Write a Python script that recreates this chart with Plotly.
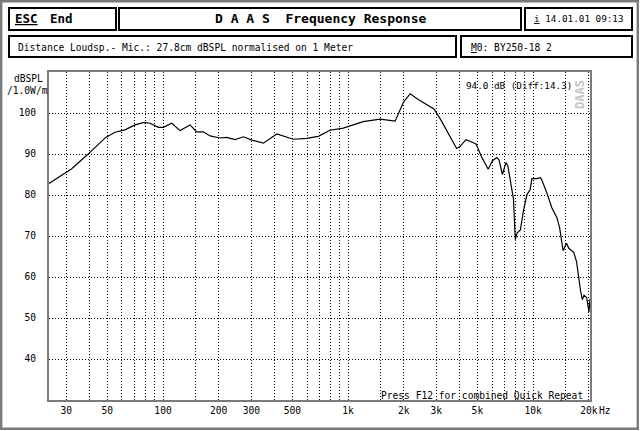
import plotly.graph_objects as go
import numpy as np

# ---- data ----
freq_hz = [24.2, 28.9, 32.1, 39, 49, 55, 62.3, 70.6, 79, 85, 94.3, 100.4, 111.4, 123.6,
           140, 152, 165, 179.6, 203, 221, 245, 272, 302, 349, 412, 506, 598, 690, 798,
           942, 1206, 1490, 1796, 1994, 2166, 2395, 2449, 2912, 3156, 3425, 3862, 4028,
           4334, 4722, 4930, 5253, 5720, 6016, 6356, 6540, 6829, 7125, 7305, 7516, 7680,
           7838, 8012, 8190, 8535, 8890, 9265, 9645, 9850, 10040, 10500, 10960, 11120,
           11870, 12640, 13470, 13920, 14520, 15150, 15600, 16600, 17180, 17700, 18080,
           18460, 18840, 19480, 20040, 20300]
spl_db = [82.8, 85.0, 86.4, 89.8, 94.05, 95.3, 95.9, 97.1, 97.7, 97.5, 96.5, 96.5, 97.5, 95.7,
          97.1, 95.4, 95.4, 94.4, 93.9, 94.05, 93.5, 94.2, 93.4, 92.65, 94.9, 93.6, 93.8, 94.3, 95.8,
          96.3, 97.9, 98.5, 98.0, 102.65, 104.7, 103.3, 103.05, 101.0, 98.5, 95.7, 91.35, 91.8,
          93.5, 92.8, 92.4, 89.4, 86.3, 88.3, 89.15, 88.6, 85.0, 87.9, 87.1, 83.8, 81.35,
          78.9, 69.1, 70.7, 71.5, 76.4, 80.1, 81.35, 84.0, 84.0, 84.0, 84.2, 83.8,
          80.5, 76.85, 74.4, 71.9, 66.4, 68.25, 67.0, 65.95, 63.7, 59.2, 56.4,
          54.5, 55.55, 55.0, 51.45, 54.7]

x_grid_hz = [30, 40, 50, 60, 70, 80, 90, 100, 150, 200, 300, 400, 500, 600, 700, 800, 900,
             1000, 1500, 2000, 3000, 4000, 5000, 6000, 7000, 8000, 9000, 10000, 15000, 20000]
x_labels = {30: "30", 50: "50", 100: "100", 200: "200", 300: "300", 500: "500", 1000: "1k",
            2000: "2k", 3000: "3k", 5000: "5k", 10000: "10k", 20000: "20k"}
y_ticks = [40, 50, 60, 70, 80, 90, 100]

W, H = 640, 431
L, R, T, B = 49, 590, 72, 400
MONO = "DejaVu Sans Mono"
FS = 9.6


def px(x):
    return (x - L) / (R - L)


def py(y):
    return (B - y) / (B - T)


fig = go.Figure()
fig.add_trace(go.Scatter(x=freq_hz, y=spl_db, mode="lines",
                         line=dict(color="black", width=1.2), hoverinfo="skip"))

annotations = []


def txt(text, x, y, anchor="left", size=FS, bold=False, color="black", angle=0):
    annotations.append(dict(text=text, x=px(x), y=py(y), xref="paper", yref="paper",
                            xanchor=anchor, yanchor="middle", showarrow=False,
                            textangle=angle,
                            font=dict(family=MONO, size=size, color=color,
                                      weight="bold" if bold else "normal")))


txt("<u>ESC</u>", 13, 19, size=12.5, bold=True)
txt("End", 48, 19, size=12.5, bold=True)
txt("D A A S  Frequency Response", 320, 19, anchor="center", size=13, bold=True)
txt("<u>i</u> 14.01.01 09:13", 532, 19, size=9.3)
txt("Distance Loudsp.- Mic.: 27.8cm dBSPL normalised on 1 Meter", 16, 47)
txt("<u>M</u>0: BY250-18 2", 469, 47)
txt("dBSPL", 28, 78, anchor="center")
txt("/1.0W/m", 27.5, 90, anchor="center")
txt("94.0 dB (Diff:14.3)", 464, 85, size=9.3)
txt("DAAS", 580, 95, anchor="center", size=12, bold=True, color="#c4c4c4", angle=-90)
txt("Press F12 for combined Quick Repeat", 379, 395)
txt("Hz", 597, 410)

shapes = []


def rect(x0, y0, x1, y1, color="black", width=2):
    shapes.append(dict(type="rect", xref="paper", yref="paper",
                       x0=px(x0), x1=px(x1), y0=py(y0), y1=py(y1),
                       line=dict(color=color, width=width), fillcolor="rgba(0,0,0,0)"))


rect(1.2, 1.2, 637.8, 428.8, color="#7a7a7a", width=2.4)
rect(9, 8, 116, 30)
rect(119, 8, 521, 30)
rect(525, 8, 632, 30)
rect(9, 36, 456, 57)
rect(461, 36, 632, 57)

fig.update_layout(
    width=W, height=H,
    margin=dict(l=L, r=W - R, t=T, b=H - B, pad=0),
    paper_bgcolor="white", plot_bgcolor="white",
    showlegend=False,
    annotations=annotations, shapes=shapes,
    font=dict(family=MONO, size=FS, color="black"),
    xaxis=dict(type="log", range=[np.log10(24.2), np.log10(20300)],
               tickvals=x_grid_hz,
               ticktext=[x_labels.get(v, "") for v in x_grid_hz],
               showgrid=True, gridcolor="black", gridwidth=1, griddash="1px,2px",
               showline=True, mirror=True, linecolor="#7a7a7a", linewidth=2,
               ticks="", zeroline=False, ticklabelstandoff=0,
               tickfont=dict(family=MONO, size=FS, color="black")),
    yaxis=dict(range=[30, 110], tickvals=y_ticks,
               showgrid=True, gridcolor="black", gridwidth=1, griddash="1px,2px",
               showline=True, mirror=True, linecolor="#7a7a7a", linewidth=2,
               ticks="", zeroline=False, ticklabelstandoff=9,
               tickfont=dict(family=MONO, size=FS, color="black")),
)

fig.write_html("out.html", config={"displayModeBar": False},
               post_script="document.body.style.margin='0';document.body.style.overflow='hidden';")
